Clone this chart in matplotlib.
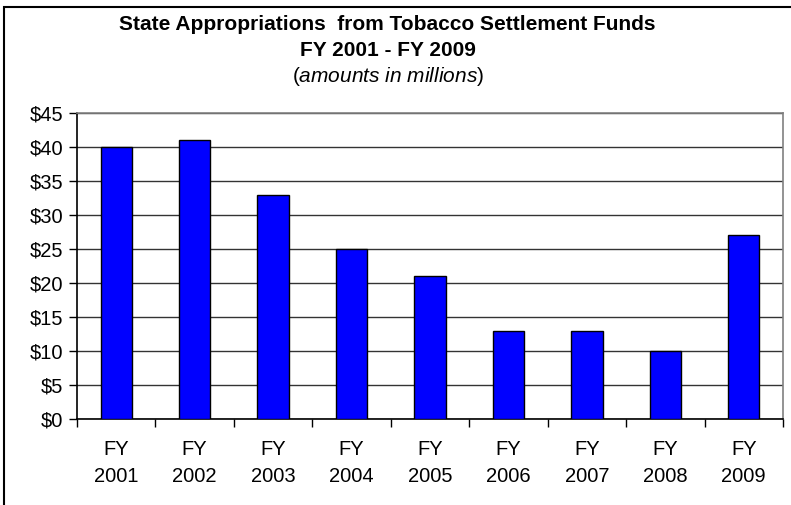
# State appropriations from tobacco settlement funds, bar chart

import numpy as np
import matplotlib.pyplot as plt
from matplotlib.patches import Rectangle

plt.rcParams['font.family'] = ['Liberation Sans', 'DejaVu Sans']
plt.rcParams['mathtext.fontset'] = 'custom'
plt.rcParams['mathtext.rm'] = 'Liberation Sans'
plt.rcParams['mathtext.it'] = 'Liberation Sans:italic'

# Data
years = ['FY\n2001', 'FY\n2002', 'FY\n2003', 'FY\n2004', 'FY\n2005',
         'FY\n2006', 'FY\n2007', 'FY\n2008', 'FY\n2009']
amounts = [40, 41, 33, 25, 21, 13, 13, 10, 27]
yticks = [0, 5, 10, 15, 20, 25, 30, 35, 40, 45]

fig = plt.figure(figsize=(7.91, 5.05), dpi=100)
ax = fig.add_axes([77/791, 1 - 419/505, (783 - 77)/791, (419 - 113)/505])

x = np.arange(len(years))
ax.bar(x, amounts, width=0.4, color='#0000FF', edgecolor='black', linewidth=1, zorder=3)

ax.set_xlim(-0.5, len(years) - 0.5)
ax.set_ylim(0, 45)
ax.set_yticks(yticks)
ax.set_yticklabels(['$' + str(v) for v in yticks], fontsize=14.5)
ax.yaxis.grid(True, color='#333333', linewidth=1, zorder=0)

# categories labelled at centres, tick marks at boundaries
ax.set_xticks(x)
ax.set_xticklabels(years, fontsize=14.5, linespacing=1.55)
ax.tick_params(axis='x', length=0, pad=15)
ax.set_xticks(np.arange(-0.5, len(years)), minor=True)
ax.tick_params(axis='x', which='minor', length=6, width=1, color='black')
ax.tick_params(axis='y', length=6, width=1, pad=4)

ax.spines['left'].set_color('black')
ax.spines['bottom'].set_color('black')
ax.spines['top'].set_color('#808080')
ax.spines['right'].set_color('#808080')
for s in ax.spines.values():
    s.set_linewidth(1.2)

# Titles
fig.text(0.49, 1 - 25/505, 'State Appropriations  from Tobacco Settlement Funds',
         ha='center', va='center', fontsize=15, fontweight='bold')
fig.text(0.49, 1 - 50/505, 'FY 2001 - FY 2009',
         ha='center', va='center', fontsize=15, fontweight='bold')
fig.text(0.49, 1 - 77/505, r'($\it{amounts\ in\ millions}$)',
         ha='center', va='center', fontsize=15)

# Chart border (left and top visible)
fig.patches.append(Rectangle((4/791, -0.1), 1.2, 1 - 7/505 + 0.1,
                             transform=fig.transFigure, fill=False,
                             edgecolor='black', linewidth=1.5))

plt.savefig('out.png', dpi=100)
